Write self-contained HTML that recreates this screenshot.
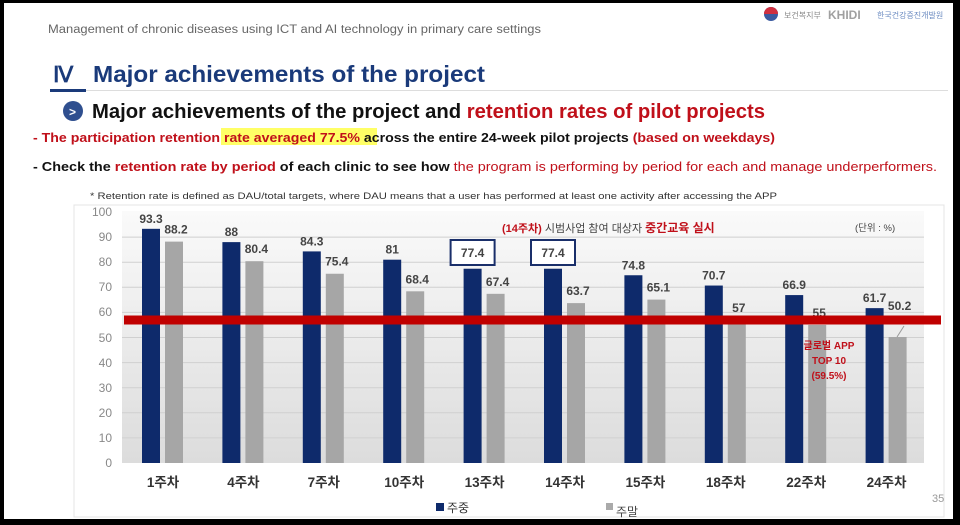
<!DOCTYPE html>
<html><head><meta charset="utf-8"><style>
html,body{margin:0;padding:0;background:#000;}
body{width:960px;height:525px;overflow:hidden;position:relative;font-family:"Liberation Sans","Noto Sans CJK KR",sans-serif;}
#pg{position:absolute;left:4px;top:3px;width:949px;height:516px;background:#fff;}
</style></head><body>
<div id="pg"></div>
<svg width="960" height="525" style="position:absolute;left:0;top:0" font-family="Liberation Sans, Noto Sans CJK KR, sans-serif">
<defs><linearGradient id="g" x1="0" y1="0" x2="0" y2="1"><stop offset="0" stop-color="#fafafa"/><stop offset="1" stop-color="#dcdcdc"/></linearGradient></defs>
<text x="48" y="33" font-size="11.5" fill="#666" textLength="493" lengthAdjust="spacingAndGlyphs">Management of chronic diseases using ICT and AI technology in primary care settings</text>
<circle cx="771" cy="14" r="7" fill="#3a5aa0"/><path d="M764 14 a7 7 0 0 1 14 0z" fill="#d03040"/>
<text x="784" y="18" font-size="8" fill="#888">보건복지부</text>
<text x="828" y="19" font-size="12" font-weight="bold" fill="#a0a0a0">KHIDI</text>
<text x="877" y="18" font-size="8" fill="#6a8ac0">한국건강증진개발원</text>
<text x="53" y="82" font-size="22" font-weight="bold" fill="#1a3a7a" font-family="Liberation Serif, serif">Ⅳ</text>
<text x="93" y="82" font-size="23" font-weight="bold" fill="#1a3a7a" textLength="392" lengthAdjust="spacingAndGlyphs">Major achievements of the project</text>
<rect x="50" y="89" width="36" height="3" fill="#1a3a7a"/><rect x="86" y="90" width="862" height="1" fill="#ddd"/>
<circle cx="73" cy="111" r="10" fill="#2f4f8f"/><text x="69" y="116" font-size="12" font-weight="bold" fill="#fff">&gt;</text>
<text x="92" y="118" font-size="20" font-weight="bold" fill="#111" textLength="673" lengthAdjust="spacingAndGlyphs">Major achievements of the project and <tspan fill="#c0101a">retention rates of pilot projects</tspan></text>
<rect x="221" y="128" width="156" height="17" fill="#ffff66"/>
<text x="33" y="142" font-size="13" font-weight="bold" fill="#c0101a" textLength="742" lengthAdjust="spacingAndGlyphs">- The participation retention rate averaged 77.5% <tspan fill="#111">across the entire 24-week pilot projects</tspan> (based on weekdays)</text>
<text x="33" y="171" font-size="13" font-weight="bold" fill="#111" textLength="904" lengthAdjust="spacingAndGlyphs">- Check the <tspan fill="#c0101a">retention rate by period</tspan> of each clinic to see how <tspan fill="#c0101a" font-weight="normal">the program is performing by period for each and manage underperformers.</tspan></text>
<text x="90" y="199" font-size="9.5" fill="#333" textLength="687" lengthAdjust="spacingAndGlyphs">* Retention rate is defined as DAU/total targets, where DAU means that a user has performed at least one activity after accessing the APP</text>
<rect x="74" y="205" width="870" height="312" fill="#fff" stroke="#e4e4e4"/>
<rect x="122" y="211" width="802" height="252" fill="url(#g)"/>
<g stroke="#d0d0d0" stroke-width="1">
<line x1="122" x2="924" y1="437.9" y2="437.9"/><line x1="122" x2="924" y1="412.8" y2="412.8"/><line x1="122" x2="924" y1="387.7" y2="387.7"/><line x1="122" x2="924" y1="362.6" y2="362.6"/><line x1="122" x2="924" y1="337.5" y2="337.5"/><line x1="122" x2="924" y1="312.4" y2="312.4"/><line x1="122" x2="924" y1="287.3" y2="287.3"/><line x1="122" x2="924" y1="262.2" y2="262.2"/><line x1="122" x2="924" y1="237.1" y2="237.1"/>
</g>
<g font-size="12" fill="#888" text-anchor="end">
<text x="112" y="467">0</text><text x="112" y="442">10</text><text x="112" y="417">20</text><text x="112" y="392">30</text><text x="112" y="367">40</text><text x="112" y="342">50</text><text x="112" y="316">60</text><text x="112" y="291">70</text><text x="112" y="266">80</text><text x="112" y="241">90</text><text x="112" y="216">100</text>
</g>
<g id="bars"></g>
<text x="502" y="232" font-size="11" fill="#444"><tspan fill="#c0101a" font-weight="bold">(14주차)</tspan> 시범사업 참여 대상자 <tspan fill="#c0101a" font-weight="bold" font-size="12">중간교육 실시</tspan></text>
<text x="855" y="231" font-size="9.5" fill="#444">(단위 : %)</text>
<rect x="124" y="315.5" width="817" height="9" fill="#c00000"/>
<line x1="897" y1="337" x2="904" y2="326" stroke="#999"/>
<text x="829" y="349" font-size="10" font-weight="bold" fill="#c0101a" text-anchor="middle">글로벌 APP</text>
<text x="829" y="364" font-size="10" font-weight="bold" fill="#c0101a" text-anchor="middle">TOP 10</text>
<text x="829" y="379" font-size="10" font-weight="bold" fill="#c0101a" text-anchor="middle">(59.5%)</text>
<rect x="436" y="503" width="8" height="8" fill="#0e2a6b"/>
<text x="447" y="512" font-size="12" fill="#333">주중</text>
<rect x="606" y="503" width="7" height="7" fill="#aaa"/>
<text x="616" y="516" font-size="12" fill="#444">주말</text>
<text x="932" y="502" font-size="11" fill="#999">35</text>
</svg>
<script>
var wd=[93.3,88,84.3,81,77.4,77.4,74.8,70.7,66.9,61.7],we=[88.2,80.4,75.4,68.4,67.4,63.7,65.1,57,55,50.2],
lb=['1주차','4주차','7주차','10주차','13주차','14주차','15주차','18주차','22주차','24주차'];
var s='';function y(v){return 463-2.51*v;}
for(var i=0;i<10;i++){var bx=142+80.4*i,gx=165+80.4*i;
s+='<rect x="'+bx+'" y="'+y(wd[i])+'" width="18" height="'+(2.51*wd[i])+'" fill="#0e2a6b"/>';
s+='<rect x="'+gx+'" y="'+y(we[i])+'" width="18" height="'+(2.51*we[i])+'" fill="#a6a6a6"/>';
if(i==4||i==5){s+='<rect x="'+(bx-13)+'" y="240" width="44" height="25" fill="#fff" stroke="#1a2f6a" stroke-width="2"/><text x="'+(bx+9)+'" y="257" font-size="12" font-weight="bold" fill="#444" text-anchor="middle">77.4</text>';}
else s+='<text x="'+(bx+9)+'" y="'+(y(wd[i])-6)+'" font-size="12" font-weight="bold" fill="#444" text-anchor="middle">'+wd[i]+'</text>';
var ly=(i==9)?310:(y(we[i])-8);
s+='<text x="'+(gx+11)+'" y="'+ly+'" font-size="12" font-weight="bold" fill="#444" text-anchor="middle">'+we[i]+'</text>';
s+='<text x="'+(bx+21)+'" y="487" font-size="13.5" font-weight="bold" fill="#333" text-anchor="middle">'+lb[i]+'</text>';}
document.getElementById('bars').innerHTML=s;
</script>
</body></html>
